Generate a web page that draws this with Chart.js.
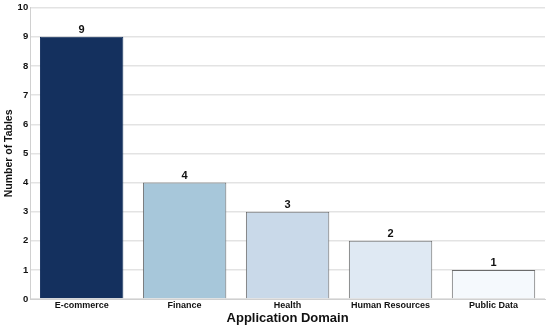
<!DOCTYPE html>
<html>
<head>
<meta charset="utf-8">
<script src="https://cdn.jsdelivr.net/npm/chart.js@4"></script>
<style>
  html, body { margin: 0; padding: 0; background: #fff; }
  #wrap { width: 550px; height: 325px; }
</style>
</head>
<body>
<div id="wrap"><canvas id="domainChart" width="550" height="325"></canvas></div>
<script>
  const categories = ['E-commerce', 'Finance', 'Health', 'Human Resources', 'Public Data'];
  const tableCounts = [9, 4, 3, 2, 1];
  const barColors = ['#14305e', '#a7c7da', '#c9d9e9', '#dfe9f3', '#f5f9fd'];
  const yTicks = [0, 1, 2, 3, 4, 5, 6, 7, 8, 9, 10];

  const fontFamily = '"Liberation Sans", Arial, sans-serif';

  // write the value above each bar
  const valueLabels = {
    id: 'valueLabels',
    afterDatasetsDraw(chart) {
      const { ctx } = chart;
      const meta = chart.getDatasetMeta(0);
      ctx.save();
      ctx.font = 'bold 11px ' + fontFamily;
      ctx.fillStyle = '#111';
      ctx.textAlign = 'center';
      ctx.textBaseline = 'bottom';
      meta.data.forEach((bar, i) => {
        ctx.fillText(tableCounts[i], bar.x, bar.y - 1);
      });
      ctx.restore();
    }
  };

  const ctx = document.getElementById('domainChart').getContext('2d');
  const domainChart = new Chart(ctx, {
    type: 'bar',
    data: {
      labels: categories,
      datasets: [{
        label: 'Number of Tables',
        data: tableCounts,
        backgroundColor: barColors,
        borderColor: ['#14305e', '#6b6b6b', '#6b6b6b', '#6b6b6b', '#6b6b6b'],
        borderWidth: 1,
        barPercentage: 0.81,
        categoryPercentage: 1.0
      }]
    },
    options: {
      responsive: false,
      animation: false,
      layout: { padding: { top: -2, right: 5, left: 0, bottom: 0 } },
      plugins: {
        legend: { display: false },
        tooltip: { enabled: false }
      },
      scales: {
        x: {
          grid: { display: false, drawTicks: false },
          border: { color: '#d0d0d0' },
          ticks: {
            color: '#111',
            font: { family: fontFamily, size: 9, weight: 'bold', lineHeight: 1.1 },
            maxRotation: 0,
            padding: 1
          },
          title: {
            display: true,
            text: 'Application Domain',
            color: '#111',
            font: { family: fontFamily, size: 13, weight: 'bold', lineHeight: 1.0 },
            padding: { top: 1, bottom: 0 }
          }
        },
        y: {
          min: 0,
          max: 10,
          afterBuildTicks(axis) {
            axis.ticks = yTicks.map(v => ({ value: v }));
          },
          grid: { color: '#e3e3e3', lineWidth: 1.5, drawTicks: false },
          border: { color: '#d0d0d0' },
          ticks: {
            color: '#111',
            font: { family: fontFamily, size: 9.5, weight: 'bold' },
            padding: 2
          },
          title: {
            display: true,
            text: 'Number of Tables',
            color: '#111',
            font: { family: fontFamily, size: 10.5, weight: 'bold' },
            padding: { top: 3, bottom: 0 }
          }
        }
      }
    },
    plugins: [valueLabels]
  });
</script>
</body>
</html>
